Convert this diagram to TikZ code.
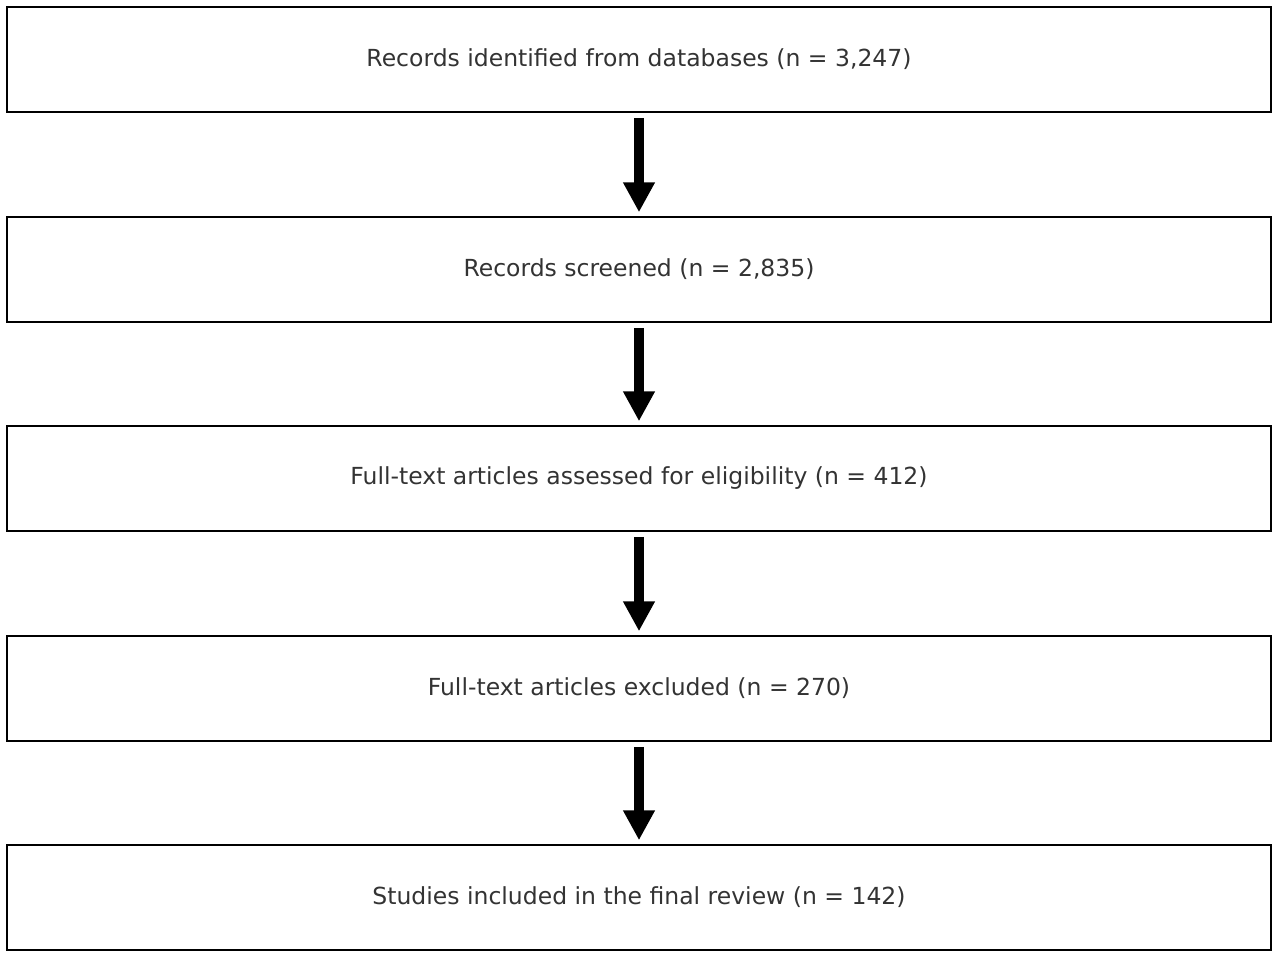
\documentclass[tikz,border=0pt]{standalone}
\usepackage{fontspec}
\setmainfont{DejaVu Sans}
\usetikzlibrary{arrows.meta}
\begin{document}
\begin{tikzpicture}[x=1pt,y=-1pt,
  box/.style={draw=black,line width=1.5pt,minimum width=1264pt,minimum height=105pt,inner sep=0pt,font=\fontsize{23.5}{27}\selectfont,text=black!80},
  arr/.style={line width=10pt,-{Triangle[width=30pt,length=30pt]},shorten <=5pt,shorten >=4pt}]
\useasboundingbox (0,0) rectangle (1280,956);
\node[box] (a) at (639,59.5) {Records identified from databases (n = 3,247)};
\node[box] (b) at (639,269.5) {Records screened (n = 2,835)};
\node[box] (c) at (639,478.5) {Full-text articles assessed for eligibility (n = 412)};
\node[box] (d) at (639,688.5) {Full-text articles excluded (n = 270)};
\node[box] (e) at (639,897.5) {Studies included in the final review (n = 142)};
\draw[arr] (a) -- (b);
\draw[arr] (b) -- (c);
\draw[arr] (c) -- (d);
\draw[arr] (d) -- (e);
\end{tikzpicture}
\end{document}
